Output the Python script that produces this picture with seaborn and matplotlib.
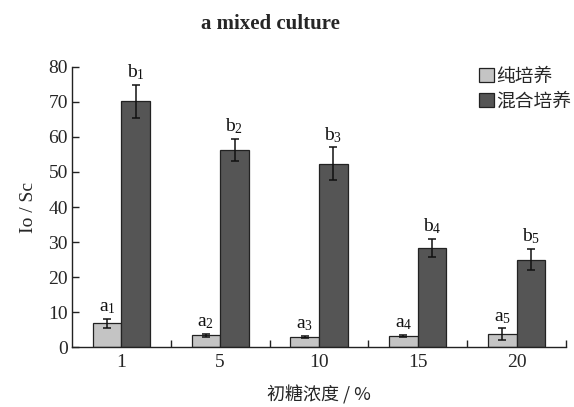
import matplotlib
matplotlib.use("Agg")
import matplotlib.pyplot as plt
import seaborn as sns
import pandas as pd
import numpy as np

# Sugar concentrations (%) and Io/Sc ratios for pure and mixed culture
concentrations = ["1", "5", "10", "15", "20"]
series_names = ["纯培养", "混合培养"]
pure_values = [6.8, 3.3, 2.8, 3.1, 3.6]
pure_errors = [1.3, 0.4, 0.3, 0.3, 1.7]
mixed_values = [70.2, 56.3, 52.4, 28.4, 25.0]
mixed_errors = [4.7, 3.2, 4.6, 2.6, 3.1]
pure_letters = ["a$_1$", "a$_2$", "a$_3$", "a$_4$", "a$_5$"]
mixed_letters = ["b$_1$", "b$_2$", "b$_3$", "b$_4$", "b$_5$"]
y_ticks = [0, 10, 20, 30, 40, 50, 60, 70, 80]

sns.set_theme(style="white")
plt.rcParams["font.family"] = ["Liberation Serif", "Noto Sans CJK SC"]
plt.rcParams["mathtext.fontset"] = "custom"
plt.rcParams["mathtext.rm"] = "Liberation Serif"
plt.rcParams["mathtext.it"] = "Liberation Serif"
plt.rcParams["mathtext.default"] = "rm"

df = pd.DataFrame({
    "浓度": concentrations * 2,
    "值": pure_values + mixed_values,
    "培养": [series_names[0]] * 5 + [series_names[1]] * 5,
})

fig = plt.figure(figsize=(5.74, 4.07), dpi=100)
ax = fig.add_axes([0.1254, 0.1474, 0.8606, 0.688])

palette = {series_names[0]: "#c4c4c4", series_names[1]: "#555555"}
sns.barplot(data=df, x="浓度", y="值", hue="培养", order=concentrations,
            hue_order=series_names, palette=palette, width=0.58,
            errorbar=None, edgecolor="#222222", linewidth=0.9,
            saturation=1, ax=ax)

errs = [pure_errors, mixed_errors]
vals = [pure_values, mixed_values]
letters = [pure_letters, mixed_letters]
bar_containers = list(ax.containers)
for ci, container in enumerate(bar_containers):
    for bi, patch in enumerate(container.patches):
        xc = patch.get_x() + patch.get_width() / 2
        v = vals[ci][bi]
        e = errs[ci][bi]
        ax.errorbar(xc, v, yerr=e, fmt="none", ecolor="#111111",
                    elinewidth=1.1, capsize=3, capthick=1.1, zorder=5)
        ax.annotate(letters[ci][bi], xy=(xc, v + e), xytext=(0, 2),
                    textcoords="offset points", ha="center", va="bottom",
                    fontsize=14, color="#111111")

ax.set_xlim(-0.5, 4.5)
ax.set_ylim(0, 80)
ax.set_yticks(y_ticks)
ax.set_yticklabels([str(t) for t in y_ticks], fontsize=14)

ax.set_xticks(range(len(concentrations)))
ax.set_xticklabels(concentrations, fontsize=14)
ax.tick_params(axis="x", which="major", length=0, pad=5)
ax.set_xticks(np.arange(0.5, len(concentrations), 1.0), minor=True)
ax.tick_params(axis="x", which="minor", direction="in", length=5,
               width=1, color="#222222", bottom=True)
ax.tick_params(axis="y", direction="in", length=5, width=1,
               color="#222222", pad=3, left=True)

for side in ["top", "right"]:
    ax.spines[side].set_visible(False)
for side in ["left", "bottom"]:
    ax.spines[side].set_color("#222222")
    ax.spines[side].set_linewidth(1.0)

ax.set_xlabel("初糖浓度 / %", fontsize=13, labelpad=10,
              family=["Noto Sans CJK SC", "Liberation Serif"])
ax.set_ylabel("Io / Sc", fontsize=14, labelpad=8)

leg = ax.legend(loc="upper right", bbox_to_anchor=(1.045, 1.065),
                frameon=False, handlelength=0.75,
                handleheight=0.75, handletextpad=0.15, labelspacing=0.2,
                prop={"family": ["Noto Sans CJK SC"], "size": 13.5})
for h in leg.legend_handles:
    h.set_edgecolor("#222222")
    h.set_linewidth(0.9)

fig.text(0.472, 0.942, "a mixed culture", ha="center", va="center",
         fontsize=15, fontweight="bold")

fig.savefig("out.png", dpi=100)
